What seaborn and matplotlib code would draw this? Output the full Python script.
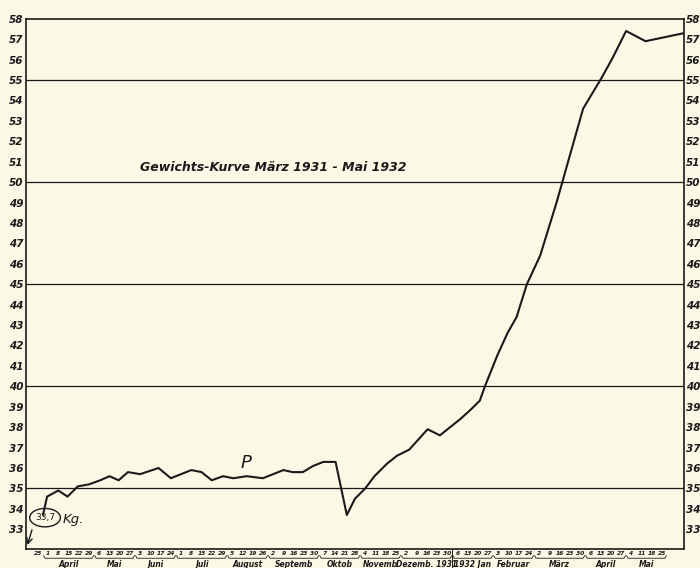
import matplotlib.pyplot as plt
import matplotlib.transforms as mtransforms
from matplotlib.patches import Ellipse
import seaborn as sns

# Weekly weighing dates, week 0 = 25 March 1931
day_labels = ["25",
              "1", "8", "15", "22", "29",      # April
              "6", "13", "20", "27",           # Mai
              "3", "10", "17", "24",           # Juni
              "1", "8", "15", "22", "29",      # Juli
              "5", "12", "19", "26",           # August
              "2", "9", "16", "23", "30",      # Septemb
              "7", "14", "21", "28",           # Oktob
              "4", "11", "18", "25",           # Novemb
              "2", "9", "16", "23", "30",      # Dezemb
              "6", "13", "20", "27",           # Jan 1932
              "3", "10", "17", "24",           # Februar
              "2", "9", "16", "23", "30",      # März
              "6", "13", "20", "27",           # April
              "4", "11", "18", "25"]           # Mai
month_names = ["April", "Mai", "Juni", "Juli", "August", "Septemb", "Oktob",
               "Novemb", "Dezemb. 1931", "1932 Jan", "Februar", "März", "April", "Mai"]
month_weeks = [5, 4, 4, 5, 4, 5, 4, 4, 5, 4, 4, 5, 4, 4]

# curve (x in weeks, y in kg)
week_pos = [0.5, 0.9, 2.0, 2.9, 3.9, 5.0, 6.1, 7.0, 7.9, 8.8,
            10.0, 11.8, 13.0, 15.0, 16.0, 17.0, 18.1, 19.1, 20.4, 22.0,
            23.0, 24.0, 24.9, 25.9, 26.9, 27.9, 29.1, 30.2, 31.0, 32.0,
            32.9, 34.1, 35.1, 36.3, 38.1, 39.3, 41.3, 42.4, 43.2, 43.7,
            44.9, 45.9, 46.8, 47.8, 49.1, 50.7, 53.3, 55.1, 56.2, 57.5,
            59.4, 63.2]
weight_kg = [33.7, 34.6, 34.9, 34.6, 35.1, 35.2, 35.4, 35.6, 35.4, 35.8,
             35.7, 36.0, 35.5, 35.9, 35.8, 35.4, 35.6, 35.5, 35.6, 35.5,
             35.7, 35.9, 35.8, 35.8, 36.1, 36.3, 36.3, 33.7, 34.5, 35.0,
             35.6, 36.2, 36.6, 36.9, 37.9, 37.6, 38.4, 38.9, 39.3, 40.0,
             41.5, 42.6, 43.4, 45.0, 46.4, 49.0, 53.6, 55.1, 56.1, 57.4,
             56.9, 57.3]

y_ticks = list(range(33, 59))
grid_levels = [35, 40, 45, 50, 55]

paper = "#fbf8e5"
ink = "#1a1a1a"

sns.set_style("ticks")
plt.rcParams["font.family"] = ["DejaVu Sans"]

fig = plt.figure(figsize=(7, 5.68), dpi=100, facecolor=paper)
ax = fig.add_axes([0.037, 0.034, 0.940, 0.933])
ax.set_facecolor(paper)

for lvl in grid_levels:
    ax.axhline(lvl, color=ink, lw=0.9, zorder=1)

sns.lineplot(x=week_pos, y=weight_kg, color=ink, lw=1.5, sort=False,
             estimator=None, ax=ax, zorder=3)

ax.set_xlim(-1.17, 63.15)
ax.set_ylim(32.05, 58.0)

for s in ax.spines.values():
    s.set_color(ink)
    s.set_linewidth(1.2)

ax.set_yticks(y_ticks)
ax.set_yticklabels([str(v) for v in y_ticks], fontsize=7.5, style="italic",
                   weight="semibold", color=ink)
ax.tick_params(axis="y", length=0, pad=1.5, labelright=True, right=True)

ax.set_xticks(range(len(day_labels)))
ax.set_xticklabels(day_labels, fontsize=4.3, style="italic",
                   weight="semibold", color=ink)
ax.tick_params(axis="x", length=0, pad=1.5)
ax.set_xlabel("")
ax.set_ylabel("")

# month names with little brackets under the day numbers
trans = mtransforms.blended_transform_factory(ax.transData, ax.transAxes)
start = 1
for name, n in zip(month_names, month_weeks):
    end = start + n - 1
    ax.plot([start - 0.45, start - 0.3, end + 0.3, end + 0.45],
            [-0.013, -0.018, -0.018, -0.013], transform=trans,
            color=ink, lw=0.6, clip_on=False)
    ax.text((start + end) / 2, -0.021, name, transform=trans, ha="center",
            va="top", fontsize=5.5, style="italic", weight="semibold",
            color=ink)
    start = end + 1
ax.plot([40.5, 40.5], [0, -0.035], transform=trans, color=ink, lw=0.7,
        clip_on=False)

# annotations
ax.text(10.0, 50.7, "Gewichts-Kurve März 1931 - Mai 1932", fontsize=9,
        style="italic", weight="semibold", color=ink, va="center")
ax.text(20.3, 36.25, "P", fontsize=13, style="italic", color=ink,
        ha="center", va="center")
ax.add_patch(Ellipse((0.7, 33.57), 3.0, 0.9, fill=False, ec=ink, lw=1.0,
                     zorder=4))
ax.text(0.7, 33.57, "33,7", fontsize=6.5, ha="center", va="center",
        color=ink, zorder=5)
ax.text(2.4, 33.5, "Kg.", fontsize=9.5, style="italic", color=ink,
        va="center")
ax.annotate("", xy=(-1.1, 32.1), xytext=(-0.5, 33.1),
            arrowprops=dict(arrowstyle="->", color=ink, lw=1.0))

fig.savefig("out.png", dpi=100, facecolor=paper)
